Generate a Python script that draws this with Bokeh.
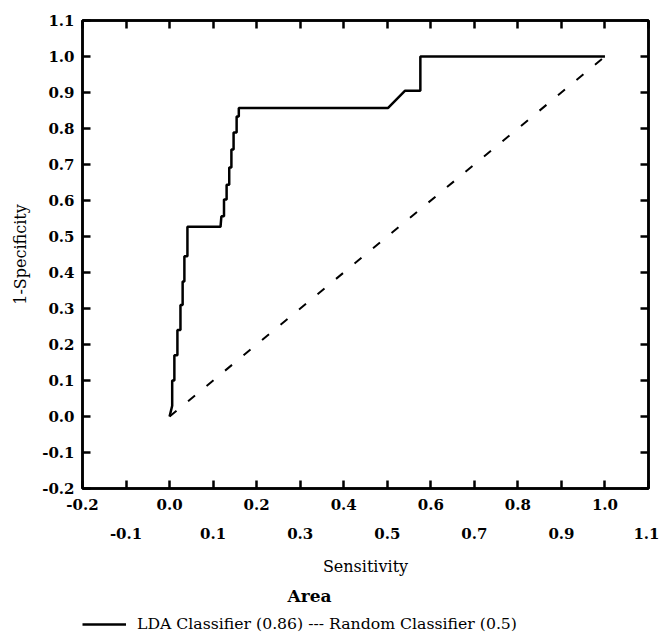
from bokeh.plotting import figure
from bokeh.layouts import column
from bokeh.models import (LinearAxis, FixedTicker, NumeralTickFormatter, Range1d,
                          Legend, LegendItem, Title)
from bokeh.embed import file_html
from bokeh.resources import INLINE

# ---- data ----
lda_x = [0.0, 0.006, 0.006, 0.011, 0.011, 0.018, 0.018, 0.025, 0.025, 0.030, 0.030,
         0.034, 0.034, 0.041, 0.041, 0.117, 0.119, 0.125, 0.125, 0.131, 0.131, 0.137,
         0.137, 0.142, 0.142, 0.147, 0.147, 0.154, 0.154, 0.159, 0.159, 0.502, 0.541,
         0.576, 0.576, 1.0]
lda_y = [0.0, 0.03, 0.10, 0.10, 0.17, 0.17, 0.24, 0.24, 0.31, 0.31, 0.375,
         0.375, 0.445, 0.445, 0.527, 0.527, 0.556, 0.556, 0.603, 0.603, 0.644, 0.644,
         0.692, 0.692, 0.742, 0.742, 0.789, 0.789, 0.833, 0.833, 0.857, 0.857, 0.905,
         0.905, 1.0, 1.0]
rand_x = [0.0, 1.0]
rand_y = [0.0, 1.0]

x_even = [-0.2, 0.0, 0.2, 0.4, 0.6, 0.8, 1.0]
x_odd = [-0.1, 0.1, 0.3, 0.5, 0.7, 0.9, 1.1]
all_ticks = [-0.2, -0.1, 0.0, 0.1, 0.2, 0.3, 0.4, 0.5, 0.6, 0.7, 0.8, 0.9, 1.0, 1.1]

x_title = "Sensitivity"
y_title = "1-Specificity"
legend_title = "Area"
legend_label = "LDA Classifier (0.86) --- Random Classifier (0.5)"

FONT = "DejaVu Serif"
LW = 2.5

p = figure(width=659, height=610, x_range=Range1d(-0.2, 1.1), y_range=Range1d(-0.2, 1.1),
           x_axis_type=None, y_axis_type=None, output_backend="svg", toolbar_location=None,
           min_border_left=82, min_border_right=11, min_border_top=20, min_border_bottom=122)
p.outline_line_color = "black"
p.outline_line_width = LW
p.background_fill_color = "white"
p.border_fill_color = "white"

fmt = NumeralTickFormatter(format="0.0")


def tick_style(ax):
    ax.axis_line_width = LW
    ax.axis_line_color = "black"
    ax.major_tick_line_width = LW
    ax.minor_tick_line_width = LW
    ax.major_tick_in = 8
    ax.major_tick_out = 0
    ax.minor_tick_in = 8
    ax.minor_tick_out = 0
    ax.major_label_text_font = FONT
    ax.major_label_text_font_size = "15px"
    ax.major_label_text_font_style = "bold"
    ax.major_label_text_color = "black"
    ax.axis_label_text_font = FONT
    ax.axis_label_text_font_size = "16px"
    ax.axis_label_text_font_style = "normal"
    ax.axis_label_text_color = "black"


xa1 = LinearAxis(ticker=FixedTicker(ticks=x_even, minor_ticks=x_odd), formatter=fmt)
tick_style(xa1)
xa1.major_label_standoff = 10
p.add_layout(xa1, "below")

xa2 = LinearAxis(ticker=FixedTicker(ticks=x_odd), formatter=fmt, axis_label=x_title)
tick_style(xa2)
xa2.axis_line_color = None
xa2.major_tick_line_color = None
xa2.minor_tick_line_color = None
xa2.major_tick_in = 0
xa2.minor_tick_in = 0
xa2.major_label_standoff = 15
xa2.axis_label_standoff = 15
p.add_layout(xa2, "below")

xt = LinearAxis(ticker=FixedTicker(ticks=[], minor_ticks=all_ticks), formatter=fmt)
tick_style(xt)
xt.major_label_standoff = 0
p.add_layout(xt, "above")

ya = LinearAxis(ticker=FixedTicker(ticks=all_ticks), formatter=fmt, axis_label=y_title)
tick_style(ya)
ya.major_label_standoff = 8
ya.axis_label_standoff = 9
p.add_layout(ya, "left")

yr = LinearAxis(ticker=FixedTicker(ticks=[], minor_ticks=all_ticks), formatter=fmt)
tick_style(yr)
yr.major_label_standoff = 0
p.add_layout(yr, "right")

rand = p.line(rand_x, rand_y, line_color="black", line_width=2, line_dash="9 15")
lda = p.line(lda_x, lda_y, line_color="black", line_width=LW)

t = Title(text=legend_title, align="left", offset=205, text_font=FONT, text_font_size="17px",
          text_font_style="bold", text_color="black", standoff=10)
p.add_layout(t, "below")

# legend strip below the chart
p2 = figure(width=659, height=23, x_range=Range1d(0, 1), y_range=Range1d(0, 1),
            x_axis_type=None, y_axis_type=None, output_backend="svg", toolbar_location=None,
            min_border=0, outline_line_color=None)
lda_key = p2.line(lda_x, lda_y, line_color="black", line_width=LW, visible=False)
leg = Legend(items=[LegendItem(label=legend_label, renderers=[lda_key])], location=(0, 0),
             orientation="horizontal", padding=0, margin=0, border_line_color=None,
             background_fill_alpha=0, inactive_fill_alpha=0, glyph_width=44, glyph_height=16,
             label_standoff=11, label_text_font=FONT, label_text_font_size="15.7px",
             label_text_color="black", label_height=16)
p2.add_layout(leg, "center")

layout = column(p, p2, spacing=0)
open("out.html", "w").write(file_html(layout, INLINE))
